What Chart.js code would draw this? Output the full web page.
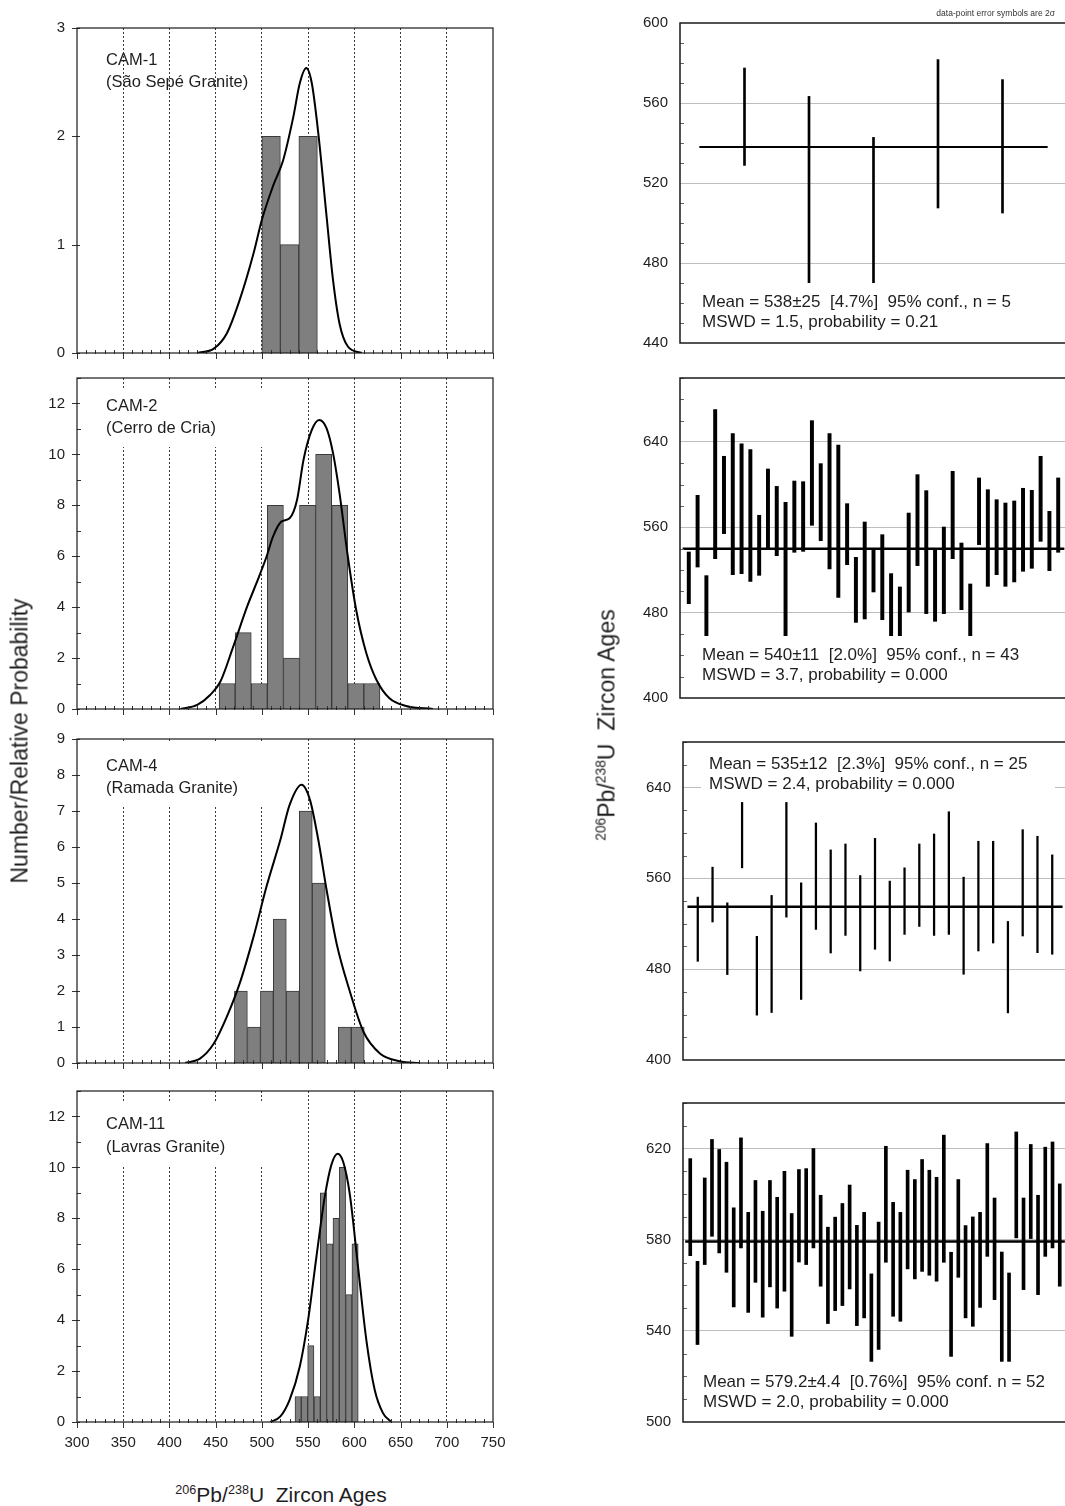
<!DOCTYPE html>
<html>
<head>
<meta charset="utf-8">
<title>206Pb/238U zircon ages</title>
<script src="https://cdn.jsdelivr.net/npm/chart.js@4.4.1/dist/chart.umd.min.js"></script>
<style>
  html, body { margin: 0; padding: 0; background: #fff; overflow: hidden; }
  body { position: relative; width: 1065px; height: 1506px; font-family: "Liberation Sans", Arial, sans-serif; color: #1e1e1e; }
  .box { position: absolute; }
  .box canvas { display: block; }
  .title { position: absolute; white-space: nowrap; line-height: 1; }
  .title sup { font-size: 0.6em; vertical-align: baseline; position: relative; top: -0.62em; }
  .rot { transform: translate(-50%, -50%) rotate(-90deg); }
  .note { position: absolute; right: 10px; top: 8px; font-size: 8.5px; color: #333; white-space: nowrap; }
</style>
</head>
<body>
<div class="box" style="left:0;top:18px"><canvas id="hist1" width="507" height="345"></canvas></div>
<div class="box" style="left:0;top:368px"><canvas id="hist2" width="507" height="351"></canvas></div>
<div class="box" style="left:0;top:729px"><canvas id="hist3" width="507" height="344"></canvas></div>
<div class="box" style="left:0;top:1081px"><canvas id="hist4" width="507" height="381"></canvas></div>

<div class="box" style="left:580px;top:13px"><canvas id="mean1" width="492" height="340"></canvas></div>
<div class="box" style="left:580px;top:368px"><canvas id="mean2" width="492" height="340"></canvas></div>
<div class="box" style="left:580px;top:732px"><canvas id="mean3" width="492" height="338"></canvas></div>
<div class="box" style="left:580px;top:1093px"><canvas id="mean4" width="492" height="339"></canvas></div>

<div class="title rot" style="left:20px;top:741px;font-size:23px">Number/Relative Probability</div>
<div class="title rot" style="left:607px;top:725px;font-size:23px"><sup>206</sup>Pb/<sup>238</sup>U&nbsp;&nbsp;Zircon Ages</div>
<div class="title" style="left:281px;top:1484px;font-size:21px;transform:translateX(-50%)"><sup>206</sup>Pb/<sup>238</sup>U&nbsp;&nbsp;Zircon Ages</div>
<div class="note">data-point error symbols are 2σ</div>

<script>
const FONT = '"Liberation Sans", Arial, sans-serif';
Chart.defaults.font.family = FONT;

const ageMin = 300;
const ageMax = 750;

// CAM-1 (São Sepé Granite)
const cam1Label = ['CAM-1', '(São Sepé Granite)'];
const cam1Bins = [510, 530, 550];
const cam1Counts = [2, 1, 2];
const cam1CurveAge = [430, 448, 462, 476, 491, 500, 512, 523, 534, 541, 548, 554, 561, 570, 577, 584, 593, 608];
const cam1CurveProb = [0, 0.04, 0.18, 0.49, 0.92, 1.23, 1.54, 1.78, 2.18, 2.49, 2.63, 2.49, 2.03, 1.26, 0.67, 0.27, 0.06, 0];
const cam1Hi = [577.5, 563.3, 542.8, 581.7, 571.7];
const cam1Lo = [528.8, 470, 470, 507.5, 505];
const cam1Mean = 538;
const cam1Stats = ['Mean = 538±25  [4.7%]  95% conf., n = 5', 'MSWD = 1.5, probability = 0.21'];

// CAM-2 (Cerro de Cria)
const cam2Label = ['CAM-2', '(Cerro de Cria)'];
const cam2Bins = [462.4, 479.8, 497.2, 514.6, 532.0, 549.4, 566.8, 584.2, 601.6, 619.0];
const cam2Counts = [1, 3, 1, 8, 2, 8, 10, 8, 1, 1];
const cam2CurveAge = [412, 430, 444, 455, 469, 484, 494, 505, 512, 521, 530, 538, 545, 554, 562, 570, 577, 584, 593, 602, 613, 624, 638, 656, 685];
const cam2CurveProb = [0, 0.16, 0.55, 1.07, 2.45, 4.02, 4.93, 5.98, 6.77, 7.36, 7.49, 8.21, 9.78, 10.96, 11.35, 11.02, 10.04, 8.47, 5.98, 3.89, 2.19, 1.14, 0.42, 0.12, 0];
const cam2Hi = [536.9, 590, 514.7, 670.3, 626.6, 647.8, 638.4, 632.8, 571.3, 614.7,
                598.4, 583.4, 603.4, 602.8, 660, 619.7, 647.8, 637.2, 582.2, 531.9,
                565, 539.7, 553.1, 516.6, 504.1, 573.4, 609.4, 594.4, 539.7, 560.3,
                612.5, 545.3, 506.9, 606.3, 595.3, 585.9, 582.8, 584.7, 596.6, 594.7,
                626.6, 575, 606.3];
const cam2Lo = [488.4, 522.8, 458.4, 530.6, 554.1, 515.6, 516.6, 509.4, 515, 539.7,
                533.4, 458.4, 536.6, 537.5, 561.9, 547.5, 520.9, 494.4, 525, 470.9,
                474.1, 499.4, 473.4, 458.4, 458.4, 480.6, 524.1, 479.1, 471.9, 479.1,
                530.6, 482.8, 458.4, 543.8, 504.7, 515.6, 504.7, 508.8, 518.8, 521.6,
                546.9, 519.4, 536.6];
const cam2Mean = 540;
const cam2Stats = ['Mean = 540±11  [2.0%]  95% conf., n = 43', 'MSWD = 3.7, probability = 0.000'];

// CAM-4 (Ramada Granite)
const cam4Label = ['CAM-4', '(Ramada Granite)'];
const cam4Bins = [477.3, 491.4, 505.4, 519.4, 533.5, 547.5, 561.6, 589.7, 603.7];
const cam4Counts = [2, 1, 2, 4, 2, 7, 5, 1, 1];
const cam4CurveAge = [417, 433, 448, 462, 476, 491, 505, 520, 530, 543, 552, 561, 570, 581, 595, 610, 628, 649, 671];
const cam4CurveProb = [0, 0.12, 0.54, 1.28, 2.21, 3.51, 4.9, 6.2, 7.17, 7.73, 7.31, 6.2, 4.81, 3.3, 2.0, 0.86, 0.26, 0.05, 0];
const cam4Hi = [543.4, 569.8, 538.4, 626.8, 508.9, 544.9, 626.8, 556, 608.7, 585,
                590.2, 562.4, 595.2, 557.5, 569.2, 590.2, 599, 618.6, 561, 592.6,
                592.6, 522, 602.8, 597, 580.6];
const cam4Lo = [486.9, 521.5, 475.2, 569.2, 439.5, 441.8, 525.8, 453.3, 515, 494.2,
                509.7, 478.4, 497.5, 487.2, 510.6, 517.6, 509.7, 510.6, 475.5, 496,
                503, 441.5, 509.2, 494.5, 493.1];
const cam4Mean = 535;
const cam4Stats = ['Mean = 535±12  [2.3%]  95% conf., n = 25', 'MSWD = 2.4, probability = 0.000'];

// CAM-11 (Lavras Granite)
const cam11Label = ['CAM-11', '(Lavras Granite)'];
const cam11Bins = [539.2, 546.1, 552.9, 559.8, 566.6, 573.4, 580.3, 587.1, 594.0, 600.8];
const cam11Counts = [1, 1, 3, 1, 9, 7, 8, 10, 5, 7];
const cam11CurveAge = [509, 520, 530, 541, 550, 559, 568, 575, 582, 588, 595, 604, 613, 622, 631, 640];
const cam11CurveProb = [0, 0.22, 0.87, 2.18, 4.01, 6.49, 8.84, 10.08, 10.54, 10.21, 8.97, 6.1, 3.22, 1.27, 0.35, 0];
const cam11Hi = [615.6, 570.5, 607.1, 624, 619.6, 614, 594, 624.7, 592, 606,
                 592.5, 606, 598.6, 610, 591.5, 610.8, 611.2, 620, 599.5, 585.5,
                 589.9, 595.9, 604, 586.3, 592, 565, 587.7, 621, 596.4, 592,
                 610.5, 606.4, 615.2, 610.5, 607.4, 625.9, 574.5, 606.4, 586.2, 590,
                 592, 622.2, 598.3, 574.6, 565.4, 627.3, 598.3, 621.8, 599.5, 620.6,
                 622.9, 604.5];
const cam11Lo = [573, 534, 569.1, 581.5, 574.2, 565.7, 550.5, 576.4, 548.1, 561.3,
                 546, 559.3, 550, 557.4, 537.6, 570.2, 569.1, 576.4, 559.6, 543.2,
                 548.9, 551.1, 558.4, 542.3, 545.7, 526.6, 531.8, 570.1, 546.4, 544.2,
                 567.2, 562.8, 566.1, 564.4, 561.8, 570.1, 528.8, 563.5, 545.7, 542,
                 550.3, 572.7, 553.7, 526.6, 526.6, 580.8, 558.1, 580.5, 555.9, 572.7,
                 576.4, 559.6];
const cam11Mean = 579.2;
const cam11Stats = ['Mean = 579.2±4.4  [0.76%]  95% conf. n = 52', 'MSWD = 2.0, probability = 0.000'];

function onStep(v, start, step) {
    const k = (v - start) / step;
    return Math.abs(k - Math.round(k)) < 1e-6;
}

// frame, tick marks and in-plot text
const decor = {
    id: 'decor',
    afterDatasetsDraw(chart, args, o) {
        const ctx = chart.ctx, a = chart.chartArea;
        ctx.save();
        if (o.box) {
            ctx.fillStyle = '#fff';
            ctx.fillRect(a.left + o.box[0], a.top + o.box[1], o.box[2], o.box[3]);
        }
        ctx.fillStyle = '#1e1e1e';
        ctx.font = o.font;
        ctx.textBaseline = 'alphabetic';
        ctx.textAlign = 'left';
        o.lines.forEach((t, i) => ctx.fillText(t, a.left + o.tx, a.top + o.ty + i * o.gap));
        ctx.restore();
    },
    afterDraw(chart, args, o) {
        const ctx = chart.ctx, a = chart.chartArea;
        const y = chart.scales.y, x = chart.scales.x;
        ctx.save();
        ctx.strokeStyle = o.tickColor;
        ctx.lineWidth = 1;
        ctx.beginPath();
        y.ticks.forEach(t => {
            const py = Math.round(y.getPixelForValue(t.value)) + 0.5;
            const major = onStep(t.value, y.min, o.yMajor);
            ctx.moveTo(a.left - (major ? o.yOut : 0), py);
            ctx.lineTo(a.left + (major ? o.yIn : o.yMinorIn), py);
        });
        if (o.xMajor) {
            // minor ticks every xMinor along the age axis, longer ones at the labelled steps
            for (let v = x.min; v <= x.max + 1e-6; v += o.xMinor) {
                const px = Math.round(x.getPixelForValue(v)) + 0.5;
                if (onStep(v, x.min, o.xMajor)) {
                    ctx.moveTo(px, a.bottom);
                    ctx.lineTo(px, a.bottom + 6);
                } else {
                    ctx.moveTo(px, a.bottom - 3);
                    ctx.lineTo(px, a.bottom + 1);
                }
            }
        }
        ctx.stroke();
        ctx.strokeStyle = '#1a1a1a';
        ctx.lineWidth = o.frame;
        ctx.strokeRect(a.left, a.top, a.right - a.left, a.bottom - a.top);
        ctx.restore();
    }
};

const tickFont = { family: FONT, size: 15 };

// keep the plot areas where the figure has them: no automatic label padding
function fixWidth(w) {
    return s => {
        s.width = w;
        s.paddingTop = 0;
        s.paddingBottom = 0;
    };
}

function fixHeight(h) {
    return s => {
        s.height = h;
        s.paddingLeft = 0;
        s.paddingRight = 0;
    };
}

function histogram(id, bins, counts, ages, probs, yMax, yMajor, label, text, showAges) {
    new Chart(document.getElementById(id), {
        type: 'bar',
        data: {
            datasets: [
                {
                    type: 'line',
                    data: ages.map((v, i) => ({ x: v, y: probs[i] })),
                    borderColor: '#000',
                    borderWidth: 2,
                    pointRadius: 0,
                    cubicInterpolationMode: 'monotone',
                    order: 0
                },
                {
                    type: 'bar',
                    data: bins.map((v, i) => ({ x: v, y: counts[i] })),
                    backgroundColor: '#7f7f7f',
                    borderColor: '#3a3a3a',
                    borderWidth: 1,
                    barPercentage: 1,
                    categoryPercentage: 1,
                    order: 1
                }
            ]
        },
        plugins: [decor],
        options: {
            responsive: false,
            animation: false,
            events: [],
            layout: { padding: { top: 10, right: 14, bottom: 0, left: 0 } },
            plugins: {
                legend: { display: false },
                tooltip: { enabled: false },
                decor: Object.assign({
                    lines: label,
                    font: '16.5px ' + FONT,
                    yMajor: yMajor, yOut: 5, yIn: 3, yMinorIn: 4,
                    xMajor: 50, xMinor: 10, frame: 1.2, tickColor: '#333'
                }, text)
            },
            scales: {
                x: {
                    type: 'linear',
                    min: ageMin,
                    max: ageMax,
                    offset: false,
                    ticks: {
                        stepSize: 50,
                        autoSkip: false,
                        maxRotation: 0,
                        display: showAges,
                        padding: 12,
                        font: tickFont,
                        color: '#1e1e1e'
                    },
                    grid: {
                        offset: false,
                        drawTicks: false,
                        lineWidth: 1,
                        color: c => (c.tick && c.tick.value > ageMin && c.tick.value < ageMax) ? '#3a3a3a' : 'rgba(0,0,0,0)'
                    },
                    border: { display: false, dash: [2, 2] },
                    afterFit: fixHeight(showAges ? 40 : 10)
                },
                y: {
                    min: 0,
                    max: yMax,
                    ticks: {
                        stepSize: 1,
                        autoSkip: false,
                        padding: 12,
                        font: tickFont,
                        color: '#1e1e1e',
                        callback: v => onStep(v, 0, yMajor) ? v : ''
                    },
                    grid: { display: false, drawTicks: false },
                    border: { display: false },
                    afterFit: fixWidth(77)
                }
            }
        }
    });
}

function meanPlot(id, lo, hi, mean, yMin, yMax, yMinor, yMajor, stats, text, look) {
    const n = lo.length;
    new Chart(document.getElementById(id), {
        type: 'bar',
        data: {
            datasets: [
                {
                    type: 'line',
                    data: [{ x: 0.3, y: mean }, { x: n + 0.7, y: mean }],
                    borderColor: '#000',
                    borderWidth: look.meanWidth,
                    pointRadius: 0,
                    order: 0
                },
                {
                    type: 'bar',
                    data: lo.map((v, i) => ({ x: i + 1, y: [v, hi[i]] })),
                    backgroundColor: '#000',
                    barThickness: look.barWidth,
                    order: 1
                }
            ]
        },
        plugins: [decor],
        options: {
            responsive: false,
            animation: false,
            events: [],
            layout: { padding: { top: 10, right: 5, bottom: 10, left: 0 } },
            plugins: {
                legend: { display: false },
                tooltip: { enabled: false },
                decor: Object.assign({
                    lines: stats,
                    font: '17px ' + FONT,
                    gap: 20,
                    yMajor: yMajor, yOut: 0, yIn: 0, yMinorIn: 4,
                    xMajor: null, frame: 1.5, tickColor: '#666'
                }, text)
            },
            scales: {
                x: {
                    type: 'linear',
                    min: 0,
                    max: n + 1,
                    offset: false,
                    display: false,
                    grid: { offset: false }
                },
                y: {
                    min: yMin,
                    max: yMax,
                    ticks: {
                        stepSize: yMinor,
                        autoSkip: false,
                        padding: 12,
                        font: tickFont,
                        color: '#1e1e1e',
                        callback: v => onStep(v, yMin, yMajor) ? v : ''
                    },
                    grid: {
                        drawTicks: false,
                        lineWidth: 1,
                        color: c => (c.tick && c.tick.value > yMin && c.tick.value < yMax && onStep(c.tick.value, yMin, yMajor)) ? '#bdbdbd' : 'rgba(0,0,0,0)'
                    },
                    border: { display: false },
                    afterFit: fixWidth(look.axisWidth)
                }
            }
        }
    });
}

histogram('hist1', cam1Bins, cam1Counts, cam1CurveAge, cam1CurveProb, 3, 1, cam1Label,
    { tx: 29, ty: 37, gap: 22, box: null }, false);
histogram('hist2', cam2Bins, cam2Counts, cam2CurveAge, cam2CurveProb, 13, 2, cam2Label,
    { tx: 29, ty: 33, gap: 22, box: [23, 12, 182, 57] }, false);
histogram('hist3', cam4Bins, cam4Counts, cam4CurveAge, cam4CurveProb, 9, 1, cam4Label,
    { tx: 29, ty: 32, gap: 22, box: [23, 3, 182, 65] }, false);
histogram('hist4', cam11Bins, cam11Counts, cam11CurveAge, cam11CurveProb, 13, 2, cam11Label,
    { tx: 29, ty: 38, gap: 23, box: [23, 12, 182, 62] }, true);

meanPlot('mean1', cam1Lo, cam1Hi, cam1Mean, 440, 600, 10, 40, cam1Stats,
    { tx: 22, ty: 284, box: [14, 260, 345, 57] }, { barWidth: 2, meanWidth: 2, axisWidth: 100 });
meanPlot('mean2', cam2Lo, cam2Hi, cam2Mean, 400, 700, 20, 80, cam2Stats,
    { tx: 22, ty: 282, box: [14, 258, 350, 57] }, { barWidth: 3.3, meanWidth: 2.5, axisWidth: 100 });
meanPlot('mean3', cam4Lo, cam4Hi, cam4Mean, 400, 680, 20, 80, cam4Stats,
    { tx: 26, ty: 27, box: [18, 3, 354, 57] }, { barWidth: 1.6, meanWidth: 2.5, axisWidth: 103 });
meanPlot('mean4', cam11Lo, cam11Hi, cam11Mean, 500, 640, 10, 40, cam11Stats,
    { tx: 20, ty: 284, box: [12, 259, 360, 57] }, { barWidth: 3, meanWidth: 2.5, axisWidth: 103 });
</script>
</body>
</html>
